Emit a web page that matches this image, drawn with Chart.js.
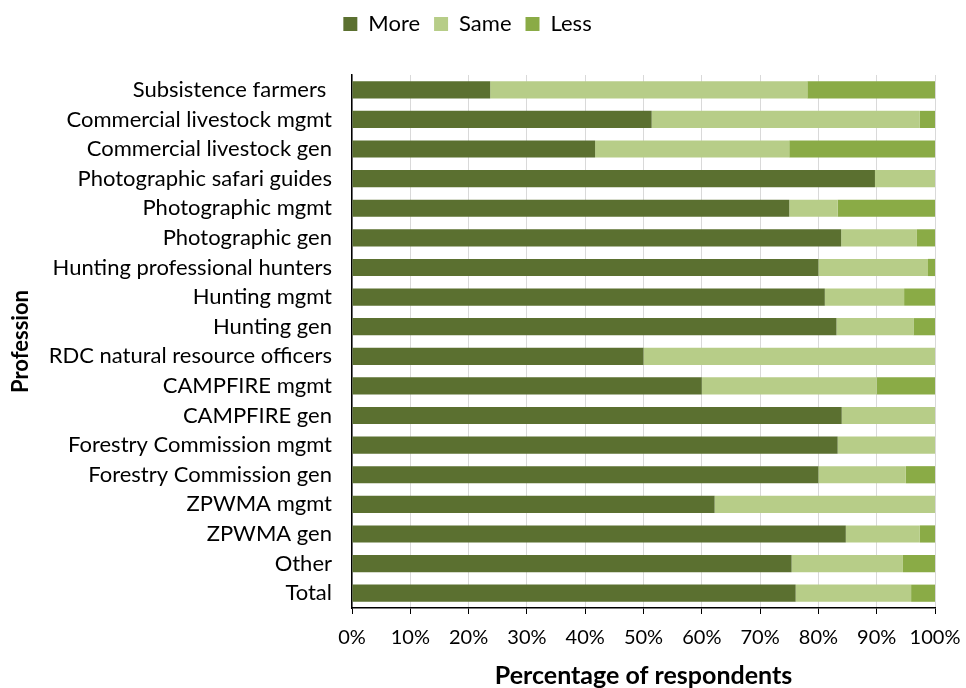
<!DOCTYPE html>
<html>
<head>
<meta charset="utf-8">
<script src="https://cdn.jsdelivr.net/npm/chart.js@4.4.1/dist/chart.umd.min.js"></script>
<style>
  html, body { margin: 0; padding: 0; background: #fff; overflow: hidden; }
  #wrap { width: 966px; height: 688px; position: relative; }
  canvas { display: block; }
</style>
</head>
<body>
<div id="wrap"><canvas id="c" width="966" height="688"></canvas></div>
<script>
// Professions, listed top to bottom
const professions = [
  "Subsistence farmers ",
  "Commercial livestock mgmt",
  "Commercial livestock gen",
  "Photographic safari guides",
  "Photographic mgmt",
  "Photographic gen",
  "Hunting professional hunters",
  "Hunting mgmt",
  "Hunting gen",
  "RDC natural resource officers",
  "CAMPFIRE mgmt",
  "CAMPFIRE gen",
  "Forestry Commission mgmt",
  "Forestry Commission gen",
  "ZPWMA mgmt",
  "ZPWMA gen",
  "Other",
  "Total"
];

// Share of respondents (%) per answer
const moreValues = [23.7, 51.4, 41.7, 89.7, 75.0, 83.9, 80.0, 81.1, 83.1, 50.0, 60.0, 84.0, 83.3, 80.0, 62.2, 84.7, 75.4, 76.1];
const sameValues = [54.4, 46.0, 33.3, 10.3, 8.3, 13.0, 18.8, 13.6, 13.2, 50.0, 30.0, 16.0, 16.7, 15.0, 37.8, 12.7, 19.1, 19.8];
const lessValues = [21.9, 2.6, 25.0, 0, 16.7, 3.1, 1.2, 5.3, 3.7, 0, 10.0, 0, 0, 5.0, 0, 2.6, 5.5, 4.1];

const xTicks = [0, 10, 20, 30, 40, 50, 60, 70, 80, 90, 100];

const FONT = "Lato";

// keep the legend block a fixed height so the plot starts where intended
const legendHeight = {
  id: 'legendHeight',
  beforeInit(chart) {
    const fit = chart.legend.fit;
    chart.legend.fit = function () {
      fit.call(this);
      this.height = 76;
    };
  }
};

new Chart(document.getElementById('c'), {
  type: 'bar',
  data: {
    labels: professions,
    datasets: [
      { label: 'More', data: moreValues, backgroundColor: '#5b7030' },
      { label: 'Same', data: sameValues, backgroundColor: '#b7cd88' },
      { label: 'Less', data: lessValues, backgroundColor: '#8aab46' }
    ]
  },
  options: {
    indexAxis: 'y',
    responsive: false,
    animation: false,
    datasets: { bar: { barPercentage: 0.58, categoryPercentage: 1.0, borderWidth: 0 } },
    layout: { padding: { top: -1, right: 31, left: 0, bottom: 0 } },
    plugins: {
      tooltip: { enabled: false },
      legend: {
        position: 'top',
        align: 'center',
        labels: {
          boxWidth: 14,
          boxHeight: 14,
          padding: 14,
          color: '#000',
          font: { family: FONT, size: 22 }
        }
      }
    },
    scales: {
      x: {
        stacked: true,
        min: 0,
        max: 100,
        afterBuildTicks(scale) { scale.ticks = xTicks.map(v => ({ value: v })); },
        afterFit(scale) {
          scale.height = 80;
          scale.paddingLeft = 0;
          scale.paddingRight = 0;
        },
        ticks: {
          callback: v => v + '%',
          color: '#000',
          font: { family: FONT, size: 20 },
          padding: 12,
          maxRotation: 0
        },
        grid: { color: '#d9d9d9', lineWidth: 1, tickColor: '#000', tickLength: 6, drawTicks: true },
        border: { color: '#000', width: 1.5 },
        title: {
          display: true,
          text: 'Percentage of respondents',
          color: '#000',
          font: { family: FONT, size: 25, weight: 'bold', lineHeight: 1 },
          padding: 0
        }
      },
      y: {
        stacked: true,
        afterFit(scale) { scale.width = 352; },
        ticks: {
          color: '#000',
          font: { family: FONT, size: 22 },
          padding: 20,
          autoSkip: false
        },
        grid: { display: false, drawTicks: false },
        border: { color: '#000', width: 1.5 },
        title: {
          display: true,
          text: 'Profession',
          color: '#000',
          font: { family: FONT, size: 22, weight: 'bold' },
          padding: { top: 8 }
        }
      }
    }
  },
  plugins: [legendHeight]
});
</script>
</body>
</html>
